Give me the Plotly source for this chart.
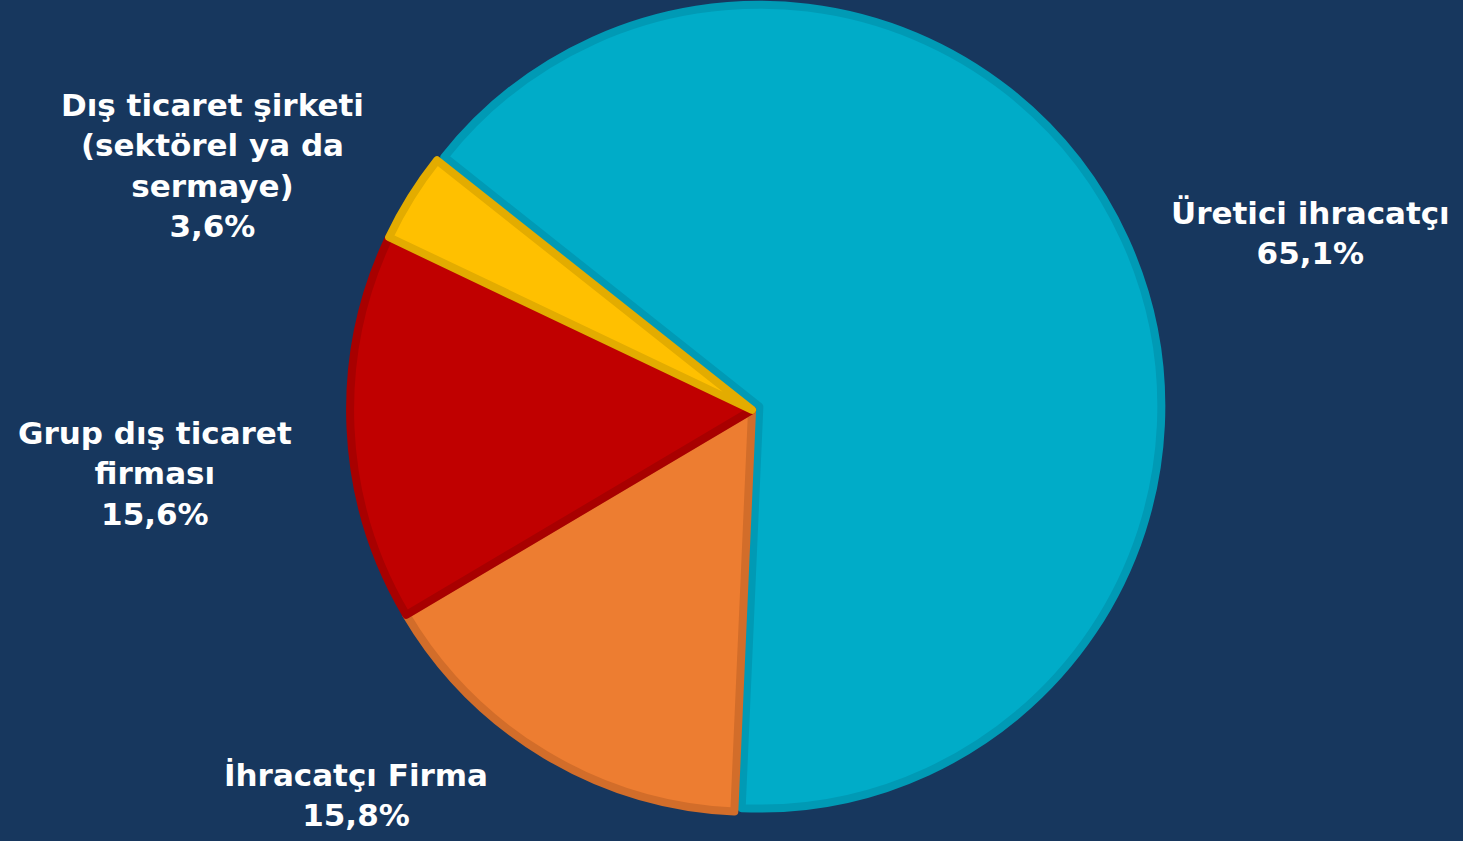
import plotly.graph_objects as go

categories = ["Üretici ihracatçı", "İhracatçı Firma", "Grup dış ticaret firması", "Dış ticaret şirketi (sektörel ya da sermaye)"]
label_lines = [["Üretici ihracatçı"], ["İhracatçı Firma"], ["Grup dış ticaret", "firması"], ["Dış ticaret şirketi", "(sektörel ya da", "sermaye)"]]
values = [65.1, 15.8, 15.6, 3.6]
fill_colors = ["#00ACC8", "#ED7D31", "#C00000", "#FFC000"]
line_colors = ["#009AB5", "#D26D2A", "#A80000", "#E3AC00"]
pulls = [0.02, 0, 0, 0]

# label anchor positions (paper coordinates)
label_pos = [(0.896, 0.723), (0.243, 0.055), (0.106, 0.437), (0.145, 0.803)]

BG = "#17375E"
FONT = "DejaVu Sans"

fig = go.Figure()
fig.add_trace(go.Pie(
    labels=categories,
    values=values,
    sort=False,
    direction="clockwise",
    rotation=-51.6,
    pull=pulls,
    marker=dict(colors=fill_colors, line=dict(color=line_colors, width=8)),
    textinfo="none",
    hoverinfo="label+percent",
    showlegend=False,
    domain=dict(x=[0.2324, 0.7957], y=[0.025, 1.0]),
))

for lines, v, (x, y) in zip(label_lines, values, label_pos):
    txt = "<br>".join(lines + [f"{v:.1f}%".replace(".", ",")])
    fig.add_annotation(
        x=x, y=y, xref="paper", yref="paper",
        text=f"<b>{txt}</b>", showarrow=False,
        xanchor="center", yanchor="middle", align="center",
        font=dict(family=FONT, size=31, color="white"),
    )

fig.update_layout(
    width=1463, height=841,
    margin=dict(l=0, r=0, t=0, b=0),
    paper_bgcolor=BG, plot_bgcolor=BG,
)

fig.write_html(
    "out.html",
    config={"displayModeBar": False},
    post_script="document.body.style.margin='0';document.body.style.background='" + BG + "';",
)
